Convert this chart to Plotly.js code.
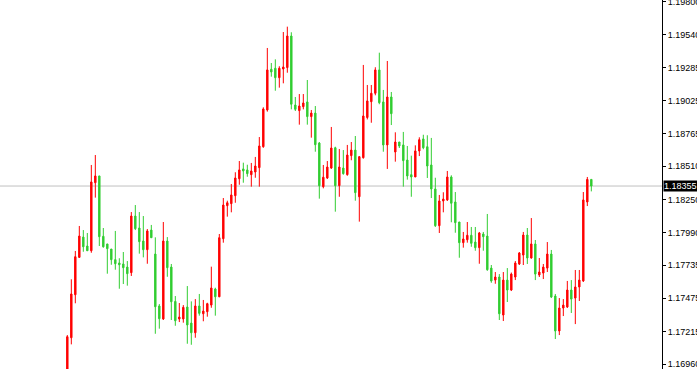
<!DOCTYPE html>
<html>
<head>
<meta charset="utf-8">
<script src="https://cdn.plot.ly/plotly-3.0.1.min.js"></script>
<style>html,body{margin:0;padding:0;background:#fff;}#chart{width:697px;height:369px;}</style>
</head>
<body>
<div id="chart"></div>
<script>
// OHLC values (one entry per bar, left to right)
const openP = [1.16921,1.17166,1.17503,1.17796,1.17955,1.17885,1.17848,1.18381,1.18434,1.17961,
1.17901,1.17861,1.17778,1.17752,1.17744,1.17720,1.17676,1.18120,1.18026,1.17924,
1.17856,1.18010,1.17822,1.17415,1.17313,1.17924,1.17720,1.17451,1.17313,1.17313,
1.17407,1.17281,1.17205,1.17415,1.17354,1.17370,1.17422,1.17548,1.17487,1.17942,
1.18201,1.18217,1.18279,1.18412,1.18489,1.18481,1.18444,1.18465,1.18499,1.18663,
1.18951,1.19270,1.19278,1.19204,1.19272,1.19283,1.19531,1.18990,1.18946,1.18977,
1.19014,1.18899,1.18927,1.18692,1.18350,1.18418,1.18496,1.18655,1.18358,1.18496,
1.18444,1.18593,1.18637,1.18271,1.18577,1.18892,1.19016,1.19082,1.19265,1.19014,
1.18677,1.19053,1.18622,1.18700,1.18677,1.18559,1.18444,1.18426,1.18630,1.18724,
1.18663,1.18520,1.18332,1.18044,1.18238,1.18246,1.18426,1.18230,1.18073,1.17911,
1.17934,1.17969,1.17916,1.17872,1.17979,1.17963,1.17712,1.17618,1.17642,1.17344,
1.17618,1.17540,1.17642,1.17744,1.17814,1.17971,1.17791,1.17901,1.17658,1.17673,
1.17712,1.17822,1.17493,1.17219,1.17399,1.17407,1.17540,1.17477,1.17564,1.17611,
1.18230,1.18407];
const highP = [1.17187,1.17624,1.17846,1.18042,1.18010,1.17987,1.18520,1.18598,1.18434,1.18026,
1.17901,1.17861,1.18003,1.17789,1.17838,1.17767,1.18151,1.18206,1.18151,1.18120,
1.18018,1.18050,1.17953,1.17430,1.18073,1.17955,1.17744,1.17493,1.17438,1.17422,
1.17571,1.17451,1.17469,1.17509,1.17462,1.17440,1.17723,1.17558,1.17979,1.18261,
1.18240,1.18371,1.18463,1.18551,1.18538,1.18522,1.18536,1.18583,1.18739,1.18972,
1.19437,1.19319,1.19348,1.19294,1.19562,1.19604,1.19560,1.19053,1.19076,1.19076,
1.19186,1.18951,1.18982,1.18700,1.18520,1.18551,1.18818,1.18663,1.18645,1.18637,
1.18677,1.18700,1.18747,1.18590,1.19304,1.19147,1.19147,1.19286,1.19400,1.19108,
1.19335,1.19092,1.18776,1.18700,1.18779,1.18669,1.18593,1.18674,1.18737,1.18757,
1.18753,1.18732,1.18420,1.18285,1.18306,1.18473,1.18439,1.18308,1.18073,1.17995,
1.18073,1.18034,1.18034,1.17995,1.17995,1.18136,1.17736,1.17681,1.17665,1.17681,
1.17712,1.17677,1.17767,1.17838,1.17995,1.18026,1.18104,1.17932,1.17791,1.17744,
1.17916,1.17854,1.17509,1.17477,1.17469,1.17611,1.17618,1.17697,1.17697,1.18308,
1.18426,1.18407];
const lowP = [1.16897,1.17114,1.17436,1.17791,1.17840,1.17846,1.17832,1.18264,1.17885,1.17872,
1.17668,1.17738,1.17699,1.17550,1.17587,1.17574,1.17650,1.18010,1.17825,1.17796,
1.17746,1.17948,1.17197,1.17237,1.17305,1.17644,1.17305,1.17260,1.17289,1.17284,
1.17119,1.17111,1.17166,1.17339,1.17295,1.17331,1.17401,1.17339,1.17484,1.17911,
1.18115,1.18149,1.18224,1.18365,1.18381,1.18428,1.18350,1.18420,1.18350,1.18655,
1.18938,1.19212,1.19102,1.19126,1.19160,1.19243,1.18956,1.18943,1.18836,1.18956,
1.18836,1.18734,1.18624,1.18256,1.18337,1.18410,1.18489,1.18154,1.18271,1.18444,
1.18436,1.18557,1.18240,1.18076,1.18570,1.18877,1.18851,1.19066,1.18996,1.18624,
1.18489,1.18833,1.18546,1.18653,1.18350,1.18405,1.18271,1.18426,1.18590,1.18643,
1.18418,1.18261,1.18034,1.17987,1.18149,1.18238,1.18071,1.17989,1.17793,1.17872,
1.17911,1.17879,1.17848,1.17746,1.17848,1.17691,1.17597,1.17589,1.17305,1.17297,
1.17446,1.17532,1.17618,1.17736,1.17736,1.17744,1.17786,1.17618,1.17642,1.17626,
1.17681,1.17477,1.17156,1.17187,1.17336,1.17399,1.17360,1.17273,1.17454,1.17603,
1.18198,1.18313];
const closeP = [1.17174,1.17509,1.17801,1.17963,1.17879,1.17848,1.18387,1.18434,1.17958,1.17879,
1.17864,1.17778,1.17746,1.17738,1.17715,1.17668,1.18120,1.18021,1.17919,1.17856,
1.18003,1.17950,1.17409,1.17315,1.17924,1.17715,1.17448,1.17299,1.17328,1.17404,
1.17266,1.17205,1.17415,1.17357,1.17375,1.17433,1.17556,1.17487,1.17950,1.18206,
1.18224,1.18285,1.18418,1.18481,1.18473,1.18452,1.18473,1.18512,1.18669,1.18959,
1.19265,1.19249,1.19204,1.19278,1.19288,1.19531,1.18996,1.18956,1.18982,1.19006,
1.18899,1.18927,1.18679,1.18358,1.18424,1.18504,1.18653,1.18358,1.18504,1.18452,
1.18598,1.18637,1.18303,1.18585,1.18904,1.19022,1.19082,1.19265,1.19008,1.18677,
1.19053,1.18922,1.18700,1.18669,1.18554,1.18434,1.18426,1.18630,1.18718,1.18655,
1.18512,1.18332,1.18044,1.18238,1.18253,1.18426,1.18220,1.18068,1.17911,1.17940,
1.17969,1.17906,1.17872,1.17987,1.17958,1.17699,1.17611,1.17642,1.17354,1.17618,
1.17540,1.17665,1.17752,1.17830,1.17971,1.17791,1.17901,1.17665,1.17681,1.17720,
1.17822,1.17485,1.17219,1.17399,1.17422,1.17540,1.17469,1.17564,1.17618,1.18246,
1.18407,1.18355];
const priceTicks = [1.19800,1.19540,1.19285,1.19025,1.18765,1.18510,1.18250,1.17990,1.17735,1.17475,1.17215,1.16960];
const priceTickText = ["1.19800","1.19540","1.19285","1.19025","1.18765","1.18510","1.18250","1.17990","1.17735","1.17475","1.17215","1.16960"];
const lastPrice = 1.18355;
const lastPriceText = "1.18355";

const bars = openP.map((_, i) => i);

const trace = {
  type: 'candlestick',
  x: bars, open: openP, high: highP, low: lowP, close: closeP,
  increasing: {line: {color: '#ff0000', width: 1}, fillcolor: '#ff0000'},
  decreasing: {line: {color: '#32cd32', width: 1}, fillcolor: '#32cd32'},
  whiskerwidth: 0,
  hoverinfo: 'skip'
};

const layout = {
  width: 697, height: 369,
  margin: {l: 0, r: 35, t: 0, b: 0, pad: 0},
  paper_bgcolor: '#ffffff', plot_bgcolor: '#ffffff',
  showlegend: false,
  boxgap: 0.5,
  xaxis: {visible: false, range: [-16.83, 148.67], rangeslider: {visible: false}, fixedrange: true},
  yaxis: {
    side: 'right', range: [1.16921, 1.19813],
    tickvals: priceTicks, ticktext: priceTickText,
    ticklabeloverflow: 'allow',
    showline: true, linecolor: '#000000', linewidth: 1, mirror: false,
    ticks: 'outside', ticklen: 3, tickwidth: 1, tickcolor: '#000000',
    showgrid: false, zeroline: false,
    tickfont: {family: 'Liberation Sans, Arial, sans-serif', size: 9, color: '#000000'},
    fixedrange: true
  },
  shapes: [{type: 'line', xref: 'paper', x0: 0, x1: 1, yref: 'y', y0: lastPrice, y1: lastPrice,
            line: {color: '#c0c0c0', width: 1}, layer: 'below'}],
  annotations: [{xref: 'paper', x: 1, xanchor: 'left', yref: 'y', y: lastPrice, yanchor: 'middle',
                 text: lastPriceText + '&nbsp;&nbsp;', showarrow: false, bgcolor: '#000000',
                 font: {family: 'Liberation Sans, Arial, sans-serif', size: 9, color: '#ffffff'},
                 borderpad: 0, xshift: 1}]
};

Plotly.newPlot('chart', [trace], layout, {staticPlot: true, displayModeBar: false});
</script>
</body>
</html>
